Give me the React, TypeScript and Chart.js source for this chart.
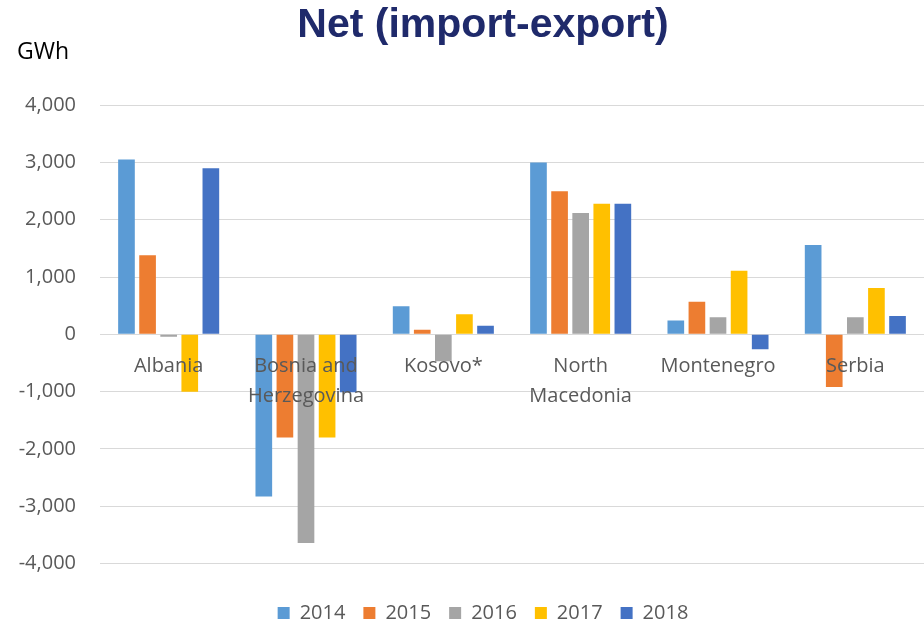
import React, { useEffect, useRef } from 'react';
import { Chart, registerables } from 'chart.js';

Chart.register(...registerables);

const categories: string[][] = [
  ['Albania'],
  ['Bosnia and', 'Herzegovina'],
  ['Kosovo*'],
  ['North', 'Macedonia'],
  ['Montenegro'],
  ['Serbia'],
];
const seriesNames = ['2014', '2015', '2016', '2017', '2018'];
const values2014 = [3050, -2830, 490, 3000, 240, 1560];
const values2015 = [1380, -1800, 80, 2500, 570, -920];
const values2016 = [-40, -3640, -470, 2120, 300, 300];
const values2017 = [-1000, -1800, 350, 2280, 1110, 810];
const values2018 = [2900, -1010, 150, 2280, -260, 320];
const seriesColors = ['#5B9BD5', '#ED7D31', '#A5A5A5', '#FFC000', '#4472C4'];
const yMin = -4000;
const yMax = 4000;
const yStep = 1000;
const titleText = 'Net (import-export)';
const unitText = 'GWh';

const FONT = '"Open Sans", "Noto Sans", sans-serif';
const GRAY = '#595959';

const unitPlugin = {
  id: 'unitLabel',
  afterDraw(chart: any) {
    const ctx = chart.ctx;
    ctx.save();
    ctx.font = `23px ${FONT}`;
    ctx.fillStyle = '#000000';
    ctx.textAlign = 'left';
    ctx.textBaseline = 'alphabetic';
    ctx.fillText(unitText, 17, 59);
    ctx.restore();
  },
};

export default function App() {
  const ref = useRef<HTMLCanvasElement | null>(null);

  useEffect(() => {
    if (!ref.current) return;
    const all = [values2014, values2015, values2016, values2017, values2018];
    const chart = new Chart(ref.current, {
      type: 'bar',
      data: {
        labels: categories,
        datasets: all.map((vals, i) => ({
          label: seriesNames[i],
          data: vals,
          backgroundColor: seriesColors[i],
          borderWidth: 0,
          categoryPercentage: 0.768,
          barPercentage: 0.79,
        })),
      },
      options: {
        animation: false,
        responsive: false,
        maintainAspectRatio: false,
        layout: { padding: { left: 42, right: 0, top: 0, bottom: -7 } },
        plugins: {
          title: {
            display: true,
            text: titleText,
            color: '#1F2A6B',
            font: { family: '"Liberation Sans", Arial, sans-serif', size: 41, weight: 'bold', lineHeight: 1.2 },
            padding: { top: 1, bottom: 55 },
          },
          legend: {
            position: 'bottom',
            title: { display: true, text: '', font: { size: 10, lineHeight: 1 }, padding: { top: 5.75, bottom: 5.75 } },
            labels: {
              boxWidth: 12,
              boxHeight: 12,
              padding: 18,
              color: GRAY,
              font: { family: FONT, size: 20 },
            },
          },
          tooltip: { enabled: false },
        },
        scales: {
          x: {
            position: { y: 0 } as any,
            z: 1,
            grid: { display: false, drawTicks: false },
            border: { display: false },
            ticks: {
              z: 1,
              color: GRAY,
              padding: 17,
              maxRotation: 0,
              autoSkip: false,
              font: { family: FONT, size: 20, lineHeight: 1.5 },
            },
          },
          y: {
            min: yMin,
            max: yMax,
            afterFit: (scale: any) => {
              scale.width = 58;
              scale._computeLabelArea = () => undefined;
            },
            grid: { color: '#D9D9D9', lineWidth: 1, drawTicks: false },
            border: { display: false },
            ticks: {
              stepSize: yStep,
              padding: 24,
              color: GRAY,
              font: { family: FONT, size: 20 },
              callback: (v: any) => {
                const n = Number(v);
                const s = Math.abs(n).toLocaleString('en-US');
                return n < 0 ? '-' + s : s;
              },
            },
          },
        },
      },
      plugins: [unitPlugin],
    });
    return () => chart.destroy();
  }, []);

  return (
    <div style={{ position: 'fixed', left: 0, top: 0, width: 924, height: 626, background: '#ffffff' }}>
      <canvas ref={ref} width={924} height={626} style={{ display: 'block', width: 924, height: 626 }} />
    </div>
  );
}
